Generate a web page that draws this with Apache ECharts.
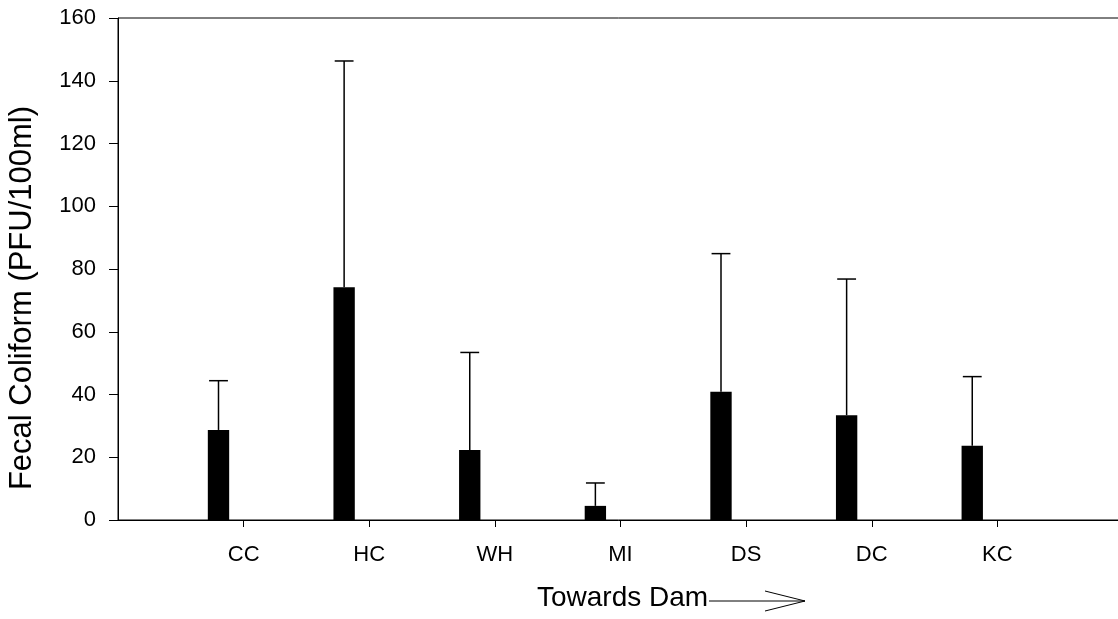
<!DOCTYPE html>
<html>
<head>
<meta charset="utf-8">
<script src="https://cdn.jsdelivr.net/npm/echarts@6/dist/echarts.min.js"></script>
<style>
  html, body { margin: 0; padding: 0; background: #fff; overflow: hidden; }
  #chart { width: 1118px; height: 619px; }
</style>
</head>
<body>
<div id="chart"></div>
<script>
// Sampling sites, upstream to downstream
const sites = ['CC', 'HC', 'WH', 'MI', 'DS', 'DC', 'KC'];
// Mean fecal coliform (PFU/100ml) per site
const meanPFU = [28.7, 74.2, 22.3, 4.5, 40.9, 33.4, 23.7];
// Mean + standard deviation (top of each error bar)
const upperPFU = [44.4, 146.3, 53.4, 11.8, 84.9, 76.8, 45.7];
// Y axis range and step
const yMin = 0, yMax = 160, yStep = 20;

const FONT = '"Liberation Sans", Arial, sans-serif';

// Empty slots at both ends leave one category width of padding on each side
const axisCategories = [''].concat(sites, [' ']);
const barData = sites.map((s, i) => [i + 1, meanPFU[i], upperPFU[i]]);

const chart = echarts.init(document.getElementById('chart'));

function renderBar(params, api) {
  const idx = api.value(0);
  const top = api.coord([idx, api.value(1)]);
  const base = api.coord([idx, 0]);
  const errTop = api.coord([idx, api.value(2)]);
  const band = api.size([1, 0])[0];
  const cx = top[0] - band * 0.2;      // bar sits left of its tick
  const barW = band * 0.17;
  const capW = band * 0.15;
  return {
    type: 'group',
    children: [
      {
        type: 'rect',
        shape: { x: cx - barW / 2, y: top[1], width: barW, height: base[1] - top[1] },
        style: { fill: '#000' }
      },
      {
        type: 'line',
        shape: { x1: cx, y1: top[1], x2: cx, y2: errTop[1] },
        style: { stroke: '#000', lineWidth: 1.5 }
      },
      {
        type: 'line',
        shape: { x1: cx - capW / 2, y1: errTop[1], x2: cx + capW / 2, y2: errTop[1] },
        style: { stroke: '#000', lineWidth: 1.5 }
      }
    ]
  };
}

chart.setOption({
  animation: false,
  backgroundColor: '#fff',
  grid: {
    left: 118, top: 18, width: 1005, height: 502,
    outerBoundsMode: 'none',
    containLabel: false,
    show: true, borderColor: '#000', borderWidth: 1, backgroundColor: 'transparent'
  },
  xAxis: {
    type: 'category',
    data: axisCategories,
    boundaryGap: false,
    axisLine: { show: true, lineStyle: { color: '#000', width: 1 } },
    axisTick: {
      show: true, length: 7, inside: false,
      interval: (i) => i > 0 && i < axisCategories.length - 1,
      lineStyle: { color: '#000', width: 1 }
    },
    axisLabel: {
      interval: 0, margin: 24, color: '#000', fontFamily: FONT, fontSize: 22
    },
    splitLine: { show: false }
  },
  yAxis: {
    type: 'value',
    min: yMin, max: yMax, interval: yStep,
    axisLine: { show: true, lineStyle: { color: '#000', width: 1 } },
    axisTick: { show: true, length: 9, inside: false, lineStyle: { color: '#000', width: 1 } },
    axisLabel: { margin: 22, color: '#000', fontFamily: FONT, fontSize: 22 },
    splitLine: { show: false }
  },
  series: [{
    type: 'custom',
    name: 'Fecal Coliform',
    renderItem: renderBar,
    encode: { x: 0, y: 1 },
    clip: false,
    data: barData
  }],
  graphic: [
    {
      type: 'text',
      x: 22, y: 298,
      rotation: Math.PI / 2,
      style: {
        text: 'Fecal Coliform (PFU/100ml)',
        font: '31px ' + FONT,
        fill: '#000',
        align: 'center',
        verticalAlign: 'middle'
      }
    },
    {
      type: 'text',
      x: 537, y: 598,
      style: {
        text: 'Towards Dam',
        font: '28px ' + FONT,
        fill: '#000',
        align: 'left',
        verticalAlign: 'middle'
      }
    },
    {
      type: 'line',
      shape: { x1: 709, y1: 601, x2: 805, y2: 601 },
      style: { stroke: '#000', lineWidth: 1 }
    },
    {
      type: 'polyline',
      shape: { points: [[765, 591], [805, 601], [765, 611]] },
      style: { stroke: '#000', lineWidth: 1, fill: null }
    }
  ]
});
</script>
</body>
</html>
